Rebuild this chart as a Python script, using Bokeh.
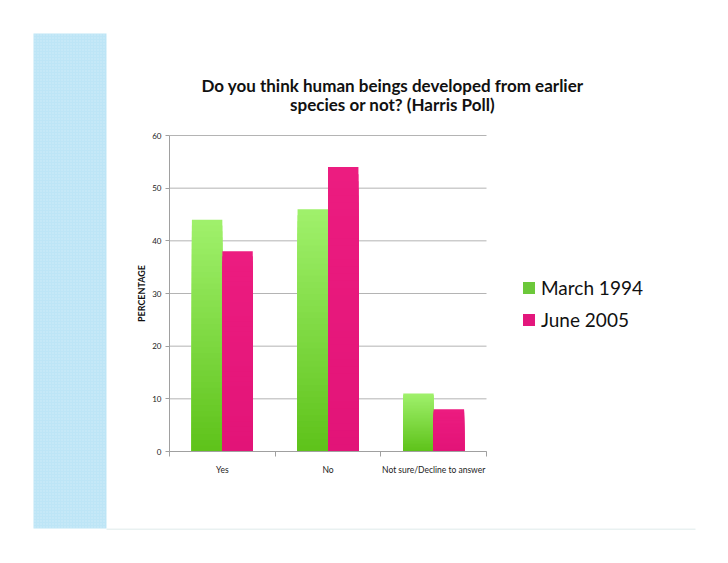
from bokeh.plotting import figure
from bokeh.models import Range1d, FixedTicker, Label, BoxAnnotation, Legend, LegendItem, ColumnDataSource
from bokeh.embed import file_html
from bokeh.resources import INLINE

categories = ["Yes", "No", "Not sure/Decline to answer"]
march_1994 = [44, 46, 11]
june_2005 = [38, 54, 8]
series_names = ["March 1994", "June 2005"]
y_ticks = [0, 10, 20, 30, 40, 50, 60]
title_lines = ["Do you think human beings developed from earlier",
               "species or not? (Harris Poll)"]

FONT = "Lato"
W, H = 712, 547
# plot-area placement in canvas pixels (layout only)
PX_L, PX_R, PX_T, PX_B = 169, 486, 135, 451
y_max = y_ticks[-1]
ncat = len(categories)
sx = (PX_R - PX_L) / ncat
sy = (PX_B - PX_T) / y_max
x_range = Range1d(-PX_L / sx, ncat + (W - PX_R) / sx)
y_range = Range1d(-(H - PX_B) / sy, y_max + PX_T / sy)

p = figure(width=W, height=H, output_backend="svg", toolbar_location=None,
           x_range=x_range, y_range=y_range, min_border=0)
p.outline_line_color = None
p.background_fill_color = "white"
p.border_fill_color = "white"

# left decorative strip
strip = BoxAnnotation(left=33, right=106, top=H - 33, bottom=H - 528,
                      left_units="screen", right_units="screen",
                      top_units="screen", bottom_units="screen",
                      fill_color="#bde5f6", fill_alpha=1.0, line_color=None,
                      hatch_pattern="dot", hatch_color="white", hatch_alpha=0.3,
                      hatch_scale=3, hatch_weight=1, level="underlay")
p.add_layout(strip)
# faint slide base line
base = BoxAnnotation(left=106, right=695, top=H - 528, bottom=H - 529.5,
                     left_units="screen", right_units="screen",
                     top_units="screen", bottom_units="screen",
                     fill_color="#e9f1f1", fill_alpha=1.0, line_color=None,
                     level="underlay")
p.add_layout(base)

# grid lines
p.xgrid.visible = False
p.ygrid.visible = False
p.segment(x0=[0] * len(y_ticks), x1=[ncat] * len(y_ticks), y0=y_ticks, y1=y_ticks,
          line_color="#b4b4b4", line_width=1)

bw = 0.288
def lerp(c0, c1, t):
    return "#%02x%02x%02x" % tuple(int(round(a + (b - a) * t)) for a, b in zip(c0, c1))

N = 40
def gradient_source(values, offset, c_bottom, c_top):
    xs, tops, cols = [], [], []
    for k in range(N):
        frac = (N - k) / N
        f_mid = (N - k - 0.5) / N
        for i, v in enumerate(values):
            xs.append(i + 0.5 + offset)
            tops.append(v * frac)
            cols.append(lerp(c_bottom, c_top, f_mid))
    return ColumnDataSource(dict(x=xs, top=tops, color=cols))

g_src = gradient_source(march_1994, -bw / 2, (94, 194, 26), (160, 241, 108))
m_src = gradient_source(june_2005, bw / 2, (226, 20, 120), (236, 28, 128))
p.vbar(x="x", top="top", bottom=0, width=bw, fill_color="color", line_color=None, source=g_src)
p.vbar(x="x", top="top", bottom=0, width=bw, fill_color="color", line_color=None, source=m_src)

# zero-height bars used only as legend swatches
lg = p.vbar(x=[0.5], top=[0], bottom=[0], width=0.01, fill_color="#6cc83a", line_color=None)
lm = p.vbar(x=[0.5], top=[0], bottom=[0], width=0.01, fill_color="#e3177c", line_color=None)

legend = Legend(items=[LegendItem(label=series_names[0], renderers=[lg]),
                       LegendItem(label=series_names[1], renderers=[lm])],
                location=(521, H - 331), orientation="vertical",
                glyph_width=15, glyph_height=15, label_standoff=5, spacing=9,
                padding=0, margin=0, border_line_color=None,
                background_fill_alpha=0, label_text_font=FONT,
                label_text_font_size="19px", label_text_color="#111111")
p.add_layout(legend, "center")

# axes drawn at fixed data locations
xa = p.xaxis[0]
xa.fixed_location = 0
xa.bounds = (0, ncat)
xa.ticker = FixedTicker(ticks=[i + 0.5 for i in range(ncat)],
                        minor_ticks=list(range(ncat + 1)))
xa.major_label_overrides = {i + 0.5: c for i, c in enumerate(categories)}
xa.major_tick_out = 0
xa.major_tick_in = 0
xa.minor_tick_out = 5
xa.minor_tick_in = 0
xa.minor_tick_line_color = "#a0a0a0"
xa.axis_line_color = "#a0a0a0"
xa.major_label_text_font = FONT
xa.major_label_text_font_size = "8.5px"
xa.major_label_text_color = "#222222"
xa.major_label_standoff = 8

ya = p.yaxis[0]
ya.fixed_location = 0
ya.bounds = (0, y_max)
ya.ticker = FixedTicker(ticks=y_ticks, minor_ticks=[])
ya.major_tick_out = 4
ya.major_tick_in = 0
ya.major_tick_line_color = "#a0a0a0"
ya.axis_line_color = "#a0a0a0"
ya.major_label_text_font = FONT
ya.major_label_text_font_size = "8px"
ya.major_label_text_color = "#222222"
ya.major_label_standoff = 4
ya.axis_label = "PERCENTAGE"
ya.axis_label_text_font = FONT
ya.axis_label_text_font_size = "9px"
ya.axis_label_text_font_style = "bold"
ya.axis_label_text_color = "#111111"
ya.axis_label_standoff = 2

for line, y in zip(title_lines, [85, 104]):
    p.add_layout(Label(x=392, y=H - y, x_units="screen", y_units="screen", text=line,
                       text_align="center", text_baseline="middle",
                       text_font=FONT, text_font_style="bold",
                       text_font_size="17px", text_color="#111111"))

open("out.html", "w").write(file_html(p, INLINE))
